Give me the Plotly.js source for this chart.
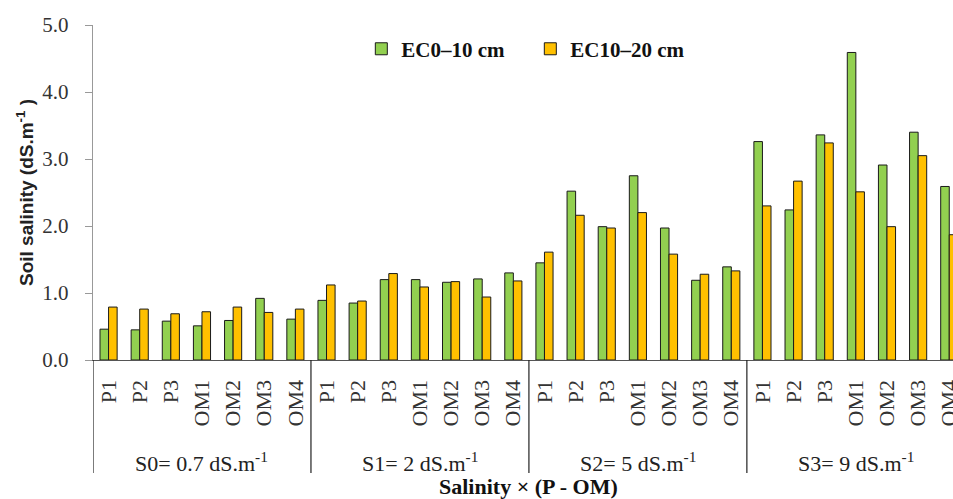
<!DOCTYPE html>
<html>
<head>
<meta charset="utf-8">
<script src="https://cdn.plot.ly/plotly-3.0.1.min.js"></script>
<style>html,body{margin:0;padding:0;background:#fff;}#chart{width:953px;height:499px;}</style>
</head>
<body>
<div id="chart"></div>
<script>
// ---- data ----
const salinityGroups = ["S0= 0.7 dS.m<sup>-1</sup>", "S1= 2 dS.m<sup>-1</sup>", "S2= 5 dS.m<sup>-1</sup>", "S3= 9 dS.m<sup>-1</sup>"];
const treatments = ["P1", "P2", "P3", "OM1", "OM2", "OM3", "OM4"];
const ec0_10 = [
  0.46, 0.45, 0.58, 0.51, 0.59, 0.92, 0.61,
  0.89, 0.85, 1.20, 1.20, 1.16, 1.21, 1.30,
  1.45, 2.52, 1.99, 2.75, 1.97, 1.19, 1.39,
  3.26, 2.24, 3.36, 4.59, 2.91, 3.40, 2.59
];
const ec10_20 = [
  0.79, 0.76, 0.69, 0.72, 0.79, 0.71, 0.76,
  1.12, 0.88, 1.29, 1.09, 1.17, 0.94, 1.18,
  1.61, 2.16, 1.97, 2.20, 1.58, 1.28, 1.33,
  2.30, 2.67, 3.24, 2.51, 1.99, 3.05, 1.87
];
const seriesNames = ["EC0–10 cm", "EC10–20 cm"];

// ---- build positions ----
const xs = [], tickText = [];
salinityGroups.forEach((g, gi) => treatments.forEach((t, ti) => {
  xs.push(gi * treatments.length + ti);
  tickText.push(t);
}));
const n = treatments.length;

const serif = "Liberation Serif, DejaVu Serif, serif";
const traces = [
  {type: "bar", x: xs, y: ec0_10, name: seriesNames[0],
   marker: {color: "#92D050", line: {color: "#1a1a1a", width: 1}}},
  {type: "bar", x: xs, y: ec10_20, name: seriesNames[1],
   marker: {color: "#FFC000", line: {color: "#1a1a1a", width: 1}}}
];

const shapes = [];
const annotations = [];
for (let gi = 0; gi <= salinityGroups.length; gi++) {
  const xb = gi * n - 0.5;
  shapes.push({type: "line", xref: "x", yref: "paper", x0: xb, x1: xb, y0: 0, y1: -0.337,
               line: {color: "#222", width: 1.2}});
}
salinityGroups.forEach((g, gi) => {
  annotations.push({xref: "x", yref: "paper", x: gi * n + (n - 1) / 2, y: -0.304,
    text: g, showarrow: false, xanchor: "center", yanchor: "middle",
    font: {family: serif, size: 22, color: "#222"}});
});
annotations.push({xref: "x", yref: "paper", x: (salinityGroups.length * n - 1) / 2, y: -0.378,
  text: "<b>Salinity × (P - OM)</b>", showarrow: false, xanchor: "center", yanchor: "middle",
  font: {family: serif, size: 22, color: "#111"}});

const layout = {
  width: 953, height: 499,
  margin: {l: 93, r: 0, t: 25, b: 139},
  paper_bgcolor: "#fff", plot_bgcolor: "#fff",
  barmode: "group", bargap: 0.45, bargroupgap: 0,
  showlegend: true,
  legend: {orientation: "h", x: 0.312, y: 0.928, xanchor: "left", yanchor: "middle",
           font: {family: serif, size: 21, color: "#111", weight: "bold"},
           entrywidth: 124, itemwidth: 30, tracegroupgap: 0, bgcolor: "rgba(0,0,0,0)"},
  xaxis: {range: [-0.5, 27.12], tickmode: "array", tickvals: xs, ticktext: tickText,
          tickangle: -90, tickfont: {family: serif, size: 22, color: "#333"},
          ticklabeloverflow: "allow", ticklabelstandoff: 10,
          showgrid: false, zeroline: false, showline: true, linecolor: "#555", linewidth: 1.2,
          ticks: "", automargin: false, fixedrange: true},
  yaxis: {range: [0, 5], dtick: 1, tickformat: ".1f", showgrid: false, zeroline: false,
          showline: true, linecolor: "#999", linewidth: 1.2, ticks: "outside", ticklen: 7,
          tickcolor: "#999", tickfont: {family: serif, size: 21, color: "#333"},
          ticklabelstandoff: 12, automargin: false,
          title: {text: "<b>Soil salinity (dS.m<sup>-1</sup> )</b>", standoff: 3,
                  font: {family: "Liberation Sans, Arial, sans-serif", size: 19, color: "#222"}}},
  shapes: shapes,
  annotations: annotations
};
Plotly.newPlot("chart", traces, layout, {displayModeBar: false, staticPlot: true});
</script>
</body>
</html>
